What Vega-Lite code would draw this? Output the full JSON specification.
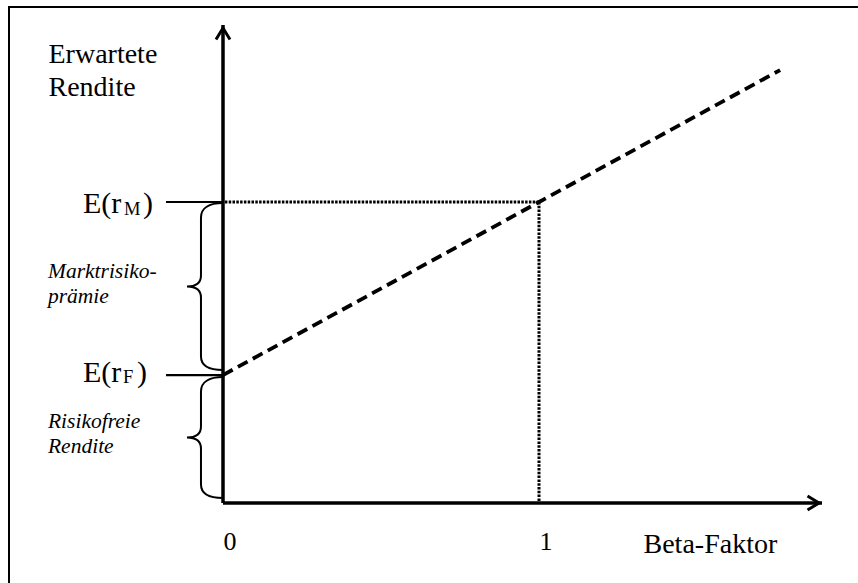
{
  "$schema": "https://vega.github.io/schema/vega-lite/v6.json",
  "width": 854,
  "height": 581,
  "autosize": {"type": "none"},
  "padding": {"left": 9, "top": 7, "right": -5, "bottom": -5},
  "background": "white",
  "config": {"font": "Liberation Serif", "view": {"stroke": "black", "strokeWidth": 2}},
  "resolve": {"scale": {"shape": "independent"}},
  "datasets": {
    "sml": [
      {"beta": 0, "ret": 2.55},
      {"beta": 1, "ret": 6},
      {"beta": 1.763, "ret": 8.63}
    ],
    "levels": [
      {"label": "M", "ret": 6, "beta": 1},
      {"label": "F", "ret": 2.55, "beta": 0}
    ],
    "axes": [
      {"axis": "x", "beta": 1.8956, "ret": 0},
      {"axis": "y", "beta": 0, "ret": 9.528}
    ],
    "braces": [
      {"part": "premium", "text": "Marktrisiko-\nprämie", "lo": 2.55, "hi": 6, "mid": 4.275},
      {"part": "riskfree", "text": "Risikofreie\nRendite", "lo": 0, "hi": 2.55, "mid": 1.275}
    ]
  },
  "layer": [
    {
      "data": {"name": "sml"},
      "mark": {"type": "line", "color": "black", "strokeWidth": 3.8, "strokeDash": [11, 6], "strokeCap": "butt"},
      "encoding": {
        "x": {
          "field": "beta", "type": "quantitative",
          "scale": {"domain": [0, 1], "range": [214, 530], "nice": false, "zero": false},
          "axis": {
            "values": [0, 1], "format": "d", "title": "Beta-Faktor",
            "domain": false, "ticks": false, "tickSize": 0, "grid": false, "offset": -85,
            "labelFontSize": 26, "labelFont": "Liberation Serif", "labelColor": "black",
            "labelBaseline": "alphabetic", "labelAlign": "left", "labelPadding": 46, "labelDx": -1,
            "labelFlush": false, "labelOverlap": false, "labelBound": false,
            "titleFont": "Liberation Serif", "titleFontSize": 28, "titleFontWeight": "normal", "titleColor": "black",
            "titleAlign": "left", "titleBaseline": "alphabetic", "titleAnchor": "start", "titleX": 634, "titleY": 49
          }
        },
        "y": {
          "field": "ret", "type": "quantitative",
          "scale": {"domain": [0, 6], "range": [496, 195], "nice": false, "zero": false},
          "axis": {
            "title": ["Erwartete", "Rendite"], "labels": false, "domain": false, "ticks": false, "grid": false,
            "titleAngle": 0, "titleX": 39, "titleY": 55, "titleAlign": "left", "titleBaseline": "alphabetic",
            "titleFontSize": 28, "titleLineHeight": 33, "titleFontWeight": "normal", "titleColor": "black",
            "titleFont": "Liberation Serif"
          }
        }
      }
    },
    {
      "data": {"name": "levels"},
      "transform": [{"filter": "datum.label === 'M'"}],
      "mark": {"type": "rule", "color": "black", "strokeWidth": 3, "strokeDash": [2.5, 1.3]},
      "encoding": {
        "x": {"field": "beta", "type": "quantitative"},
        "x2": {"datum": 0},
        "y": {"field": "ret", "type": "quantitative"}
      }
    },
    {
      "data": {"name": "levels"},
      "transform": [{"filter": "datum.label === 'M'"}],
      "mark": {"type": "rule", "color": "black", "strokeWidth": 3, "strokeDash": [2.5, 1.3]},
      "encoding": {
        "x": {"field": "beta", "type": "quantitative"},
        "y": {"field": "ret", "type": "quantitative"},
        "y2": {"datum": 0}
      }
    },
    {
      "data": {"name": "axes"},
      "mark": {"type": "rule", "color": "black", "strokeWidth": 3.5},
      "encoding": {
        "x": {"field": "beta", "type": "quantitative"},
        "y": {"field": "ret", "type": "quantitative"},
        "x2": {"datum": 0},
        "y2": {"datum": 0}
      }
    },
    {
      "data": {"name": "axes"},
      "mark": {"type": "point", "filled": false, "color": "black", "strokeWidth": 3, "size": 400, "opacity": 1},
      "encoding": {
        "x": {"field": "beta", "type": "quantitative"},
        "y": {"field": "ret", "type": "quantitative"},
        "shape": {
          "field": "axis", "type": "nominal", "legend": null,
          "scale": {"domain": ["x", "y"], "range": ["M-1.45,-0.7L-0.3,0L-1.45,0.7", "M-0.7,1.45L0,0.3L0.7,1.45"]}
        }
      }
    },
    {
      "data": {"name": "levels"},
      "mark": {"type": "rule", "color": "black", "strokeWidth": 2.2},
      "encoding": {
        "x": {"datum": -0.1804, "type": "quantitative"},
        "x2": {"datum": 0},
        "y": {"field": "ret", "type": "quantitative"}
      }
    },
    {
      "data": {"name": "braces"},
      "mark": {"type": "point", "filled": false, "color": "black", "strokeWidth": 2, "size": 400, "opacity": 1},
      "encoding": {
        "x": {"datum": -0.114, "type": "quantitative"},
        "y": {"field": "mid", "type": "quantitative"},
        "shape": {
          "field": "part", "type": "nominal", "legend": null,
          "scale": {
            "domain": ["premium", "riskfree"],
            "range": [
              "M3.6,-8.55C2.3,-8.55 1.4,-8.1 1.4,-7.1L1.4,-1.3C1.4,-0.6 0.9,-0.2 0,-0.2C0.9,-0.2 1.4,0.2 1.4,0.9L1.4,6.8C1.4,7.8 2.3,8.15 3.6,8.15",
              "M3.6,-6.2C2.3,-6.2 1.4,-5.75 1.4,-4.75L1.4,-1.25C1.4,-0.55 0.9,-0.15 0,-0.15C0.9,-0.15 1.4,0.25 1.4,0.95L1.4,4.55C1.4,5.55 2.3,5.9 3.6,5.9"
            ]
          }
        }
      }
    },
    {
      "data": {"name": "braces"},
      "mark": {"type": "text", "font": "Liberation Serif", "fontStyle": "italic", "fontSize": 21.5, "lineHeight": 25, "lineBreak": "\n", "align": "left", "baseline": "alphabetic", "dx": -139, "dy": -11, "color": "black"},
      "encoding": {
        "x": {"datum": -0.114, "type": "quantitative"},
        "y": {"field": "mid", "type": "quantitative"},
        "text": {"field": "text", "type": "nominal"}
      }
    },
    {
      "data": {"name": "levels"},
      "transform": [{"filter": "datum.label === 'M'"}],
      "mark": {"type": "text", "text": "E(r", "font": "Liberation Serif", "fontSize": 30, "align": "left", "baseline": "alphabetic", "dx": -140, "dy": 11.3, "color": "black"},
      "encoding": {"x": {"datum": 0, "type": "quantitative"}, "y": {"field": "ret", "type": "quantitative"}}
    },
    {
      "data": {"name": "levels"},
      "transform": [{"filter": "datum.label === 'M'"}],
      "mark": {"type": "text", "font": "Liberation Serif", "fontSize": 18.5, "align": "left", "baseline": "alphabetic", "dx": -99, "dy": 13, "color": "black"},
      "encoding": {"x": {"datum": 0, "type": "quantitative"}, "y": {"field": "ret", "type": "quantitative"}, "text": {"field": "label", "type": "nominal"}}
    },
    {
      "data": {"name": "levels"},
      "transform": [{"filter": "datum.label === 'M'"}],
      "mark": {"type": "text", "text": ")", "font": "Liberation Serif", "fontSize": 30, "align": "left", "baseline": "alphabetic", "dx": -80, "dy": 11.3, "color": "black"},
      "encoding": {"x": {"datum": 0, "type": "quantitative"}, "y": {"field": "ret", "type": "quantitative"}}
    },
    {
      "data": {"name": "levels"},
      "transform": [{"filter": "datum.label === 'F'"}],
      "mark": {"type": "text", "text": "E(r", "font": "Liberation Serif", "fontSize": 30, "align": "left", "baseline": "alphabetic", "dx": -140, "dy": 6.6, "color": "black"},
      "encoding": {"x": {"datum": 0, "type": "quantitative"}, "y": {"field": "ret", "type": "quantitative"}}
    },
    {
      "data": {"name": "levels"},
      "transform": [{"filter": "datum.label === 'F'"}],
      "mark": {"type": "text", "font": "Liberation Serif", "fontSize": 18.5, "align": "left", "baseline": "alphabetic", "dx": -100, "dy": 8, "color": "black"},
      "encoding": {"x": {"datum": 0, "type": "quantitative"}, "y": {"field": "ret", "type": "quantitative"}, "text": {"field": "label", "type": "nominal"}}
    },
    {
      "data": {"name": "levels"},
      "transform": [{"filter": "datum.label === 'F'"}],
      "mark": {"type": "text", "text": ")", "font": "Liberation Serif", "fontSize": 30, "align": "left", "baseline": "alphabetic", "dx": -86, "dy": 6.6, "color": "black"},
      "encoding": {"x": {"datum": 0, "type": "quantitative"}, "y": {"field": "ret", "type": "quantitative"}}
    }
  ]
}
